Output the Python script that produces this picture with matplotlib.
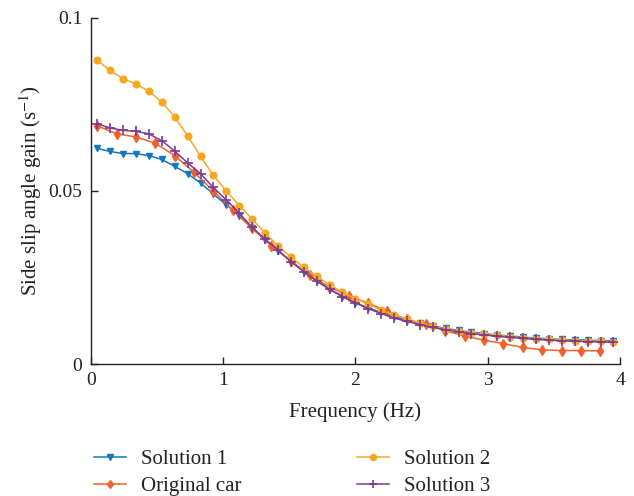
import numpy as np
import matplotlib
matplotlib.use("Agg")
import matplotlib.pyplot as plt

plt.rcParams["font.family"] = ["Liberation Serif", "DejaVu Serif"]
plt.rcParams["mathtext.fontset"] = "stix"

# Frequency grids (Hz): the solutions share a 41-point sweep, the original car a 27-point sweep
freq_solutions = np.linspace(0.05, 3.95, 41)
freq_original = np.linspace(0.05, 3.85, 27)

solution_1 = [0.0623, 0.0614, 0.0608, 0.0608, 0.0602, 0.0591, 0.0571, 0.0550, 0.0523,
              0.0491, 0.0460, 0.0429, 0.0393, 0.0359, 0.0327, 0.0298, 0.0267, 0.0241,
              0.0216, 0.0195, 0.0177, 0.0162, 0.0149, 0.0137, 0.0127, 0.0118, 0.0110,
              0.0103, 0.0097, 0.0092, 0.0088, 0.0084, 0.0081, 0.0078, 0.0075, 0.0073,
              0.0071, 0.0070, 0.0069, 0.0068, 0.0067]

solution_2 = [0.0877, 0.0848, 0.0824, 0.0809, 0.0788, 0.0757, 0.0714, 0.0659, 0.0600,
              0.0545, 0.0500, 0.0458, 0.0419, 0.0379, 0.0341, 0.0309, 0.0279, 0.0253,
              0.0229, 0.0207, 0.0189, 0.0173, 0.0156, 0.0142, 0.0130, 0.0119, 0.0109,
              0.0101, 0.0095, 0.0090, 0.0086, 0.0083, 0.0079, 0.0076, 0.0073, 0.0071,
              0.0069, 0.0068, 0.0067, 0.0066, 0.0065]

solution_3 = [0.0694, 0.0682, 0.0675, 0.0672, 0.0665, 0.0645, 0.0615, 0.0581, 0.0550,
              0.0510, 0.0474, 0.0436, 0.0395, 0.0361, 0.0330, 0.0296, 0.0267, 0.0240,
              0.0216, 0.0195, 0.0177, 0.0160, 0.0146, 0.0133, 0.0123, 0.0114, 0.0106,
              0.0099, 0.0093, 0.0088, 0.0084, 0.0080, 0.0077, 0.0074, 0.0071, 0.0069,
              0.0067, 0.0066, 0.0065, 0.0064, 0.0063]

original_car = [0.0688, 0.0665, 0.0656, 0.0638, 0.0602, 0.0554, 0.0500, 0.0445, 0.0392,
                0.0342, 0.0298, 0.0257, 0.0222, 0.0197, 0.0176, 0.0152, 0.0129, 0.0115,
                0.0096, 0.0081, 0.0069, 0.0059, 0.0048, 0.0041, 0.0039, 0.0039, 0.0038]

x_ticks = [0, 1, 2, 3, 4]
y_ticks = [0, 0.05, 0.1]
y_tick_labels = ["0", "0.05", "0.1"]

c_blue = "#1178C0"
c_orange = "#F2612B"
c_yellow = "#F7A823"
c_purple = "#7D3A92"
c_text = "#222222"

fig = plt.figure(figsize=(6.34, 4.96), dpi=100)
ax = fig.add_axes([0.143, 0.266, 0.835, 0.698])

lw = 1.1
h1, = ax.plot(freq_solutions, solution_1, color=c_blue, lw=lw, marker="v",
              markersize=5, label="Solution 1")
h0, = ax.plot(freq_original, original_car, color=c_orange, lw=lw, marker="d",
              markersize=5, label="Original car")
h2, = ax.plot(freq_solutions, solution_2, color=c_yellow, lw=lw, marker="o",
              markersize=4.8, label="Solution 2")
h3, = ax.plot(freq_solutions, solution_3, color=c_purple, lw=lw, marker="+",
              markersize=7, markeredgewidth=1.2, label="Solution 3")

ax.set_xlim(0, 4)
ax.set_ylim(0, 0.1)
ax.set_xticks(x_ticks)
ax.set_xticklabels([str(t) for t in x_ticks])
ax.set_yticks(y_ticks)
ax.set_yticklabels(y_tick_labels)

for side in ("top", "right"):
    ax.spines[side].set_visible(False)
for side in ("left", "bottom"):
    ax.spines[side].set_linewidth(1.0)
    ax.spines[side].set_color(c_text)

ax.tick_params(direction="in", length=5, width=1.0, labelsize=14,
               colors=c_text, pad=6)
ax.set_xlabel("Frequency (Hz)", fontsize=15, color=c_text, labelpad=9)
ax.set_ylabel("Side slip angle gain (s$^{-1}$)", fontsize=15, color=c_text,
              labelpad=3)

leg = fig.legend(handles=[h1, h0, h2, h3], ncol=2, loc="upper left",
                 bbox_to_anchor=(0.135, 0.11), frameon=False, fontsize=15,
                 handlelength=1.55, handletextpad=0.7, columnspacing=5.55,
                 labelspacing=0.35, markerscale=0.9, borderaxespad=0)
for text in leg.get_texts():
    text.set_color(c_text)

fig.savefig("out.png", dpi=100)
